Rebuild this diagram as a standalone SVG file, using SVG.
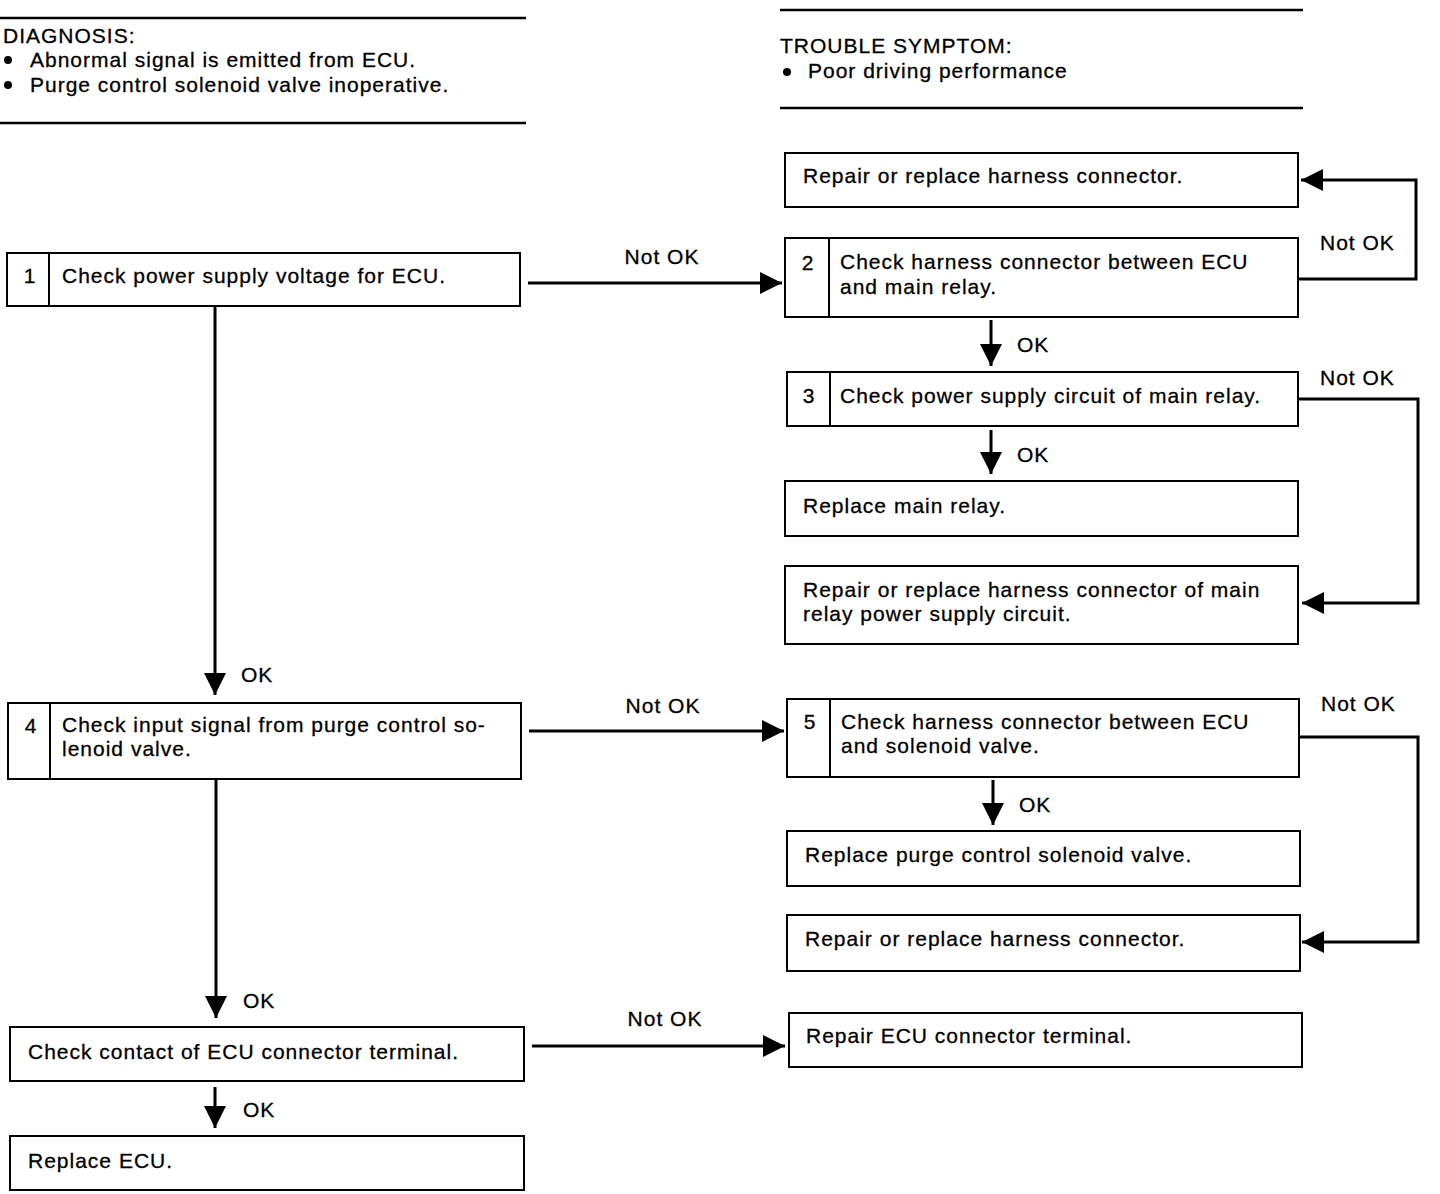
<svg xmlns="http://www.w3.org/2000/svg" width="1440" height="1194" viewBox="0 0 1440 1194">
<style>
text{font-family:"Liberation Sans",Arial,sans-serif;font-size:21px;letter-spacing:1px;fill:#000;stroke:#000;stroke-width:0.3}
.box{fill:#fff;stroke:#000;stroke-width:2}
.div{stroke:#000;stroke-width:2}
.rule{stroke:#000;stroke-width:2.5}
.c{fill:none;stroke:#000;stroke-width:3}
.num{text-anchor:middle}
.lbl{text-anchor:middle}
</style>
<defs>
<marker id="ah" markerUnits="userSpaceOnUse" markerWidth="24" markerHeight="24" refX="22" refY="11" orient="auto">
<path d="M0,0 L22,11 L0,22 Z" fill="#000"/>
</marker>
</defs>
<rect width="1440" height="1194" fill="#fff"/>
<g id="header-diagnosis">
<line class="rule" x1="0" y1="18" x2="526" y2="18"/>
<text x="3" y="43">DIAGNOSIS:</text>
<circle cx="8" cy="60" r="4"/>
<text x="30" y="67">Abnormal signal is emitted from ECU.</text>
<circle cx="8" cy="85" r="4"/>
<text x="30" y="92">Purge control solenoid valve inoperative.</text>
<line class="rule" x1="0" y1="123" x2="526" y2="123"/>
</g>
<g id="header-symptom">
<line class="rule" x1="780" y1="10" x2="1303" y2="10"/>
<text x="780" y="53">TROUBLE SYMPTOM:</text>
<circle cx="787" cy="72" r="4"/>
<text x="808" y="78">Poor driving performance</text>
<line class="rule" x1="780" y1="108" x2="1303" y2="108"/>
</g>
<g id="n-repair-harness-1">
<rect class="box" x="785" y="153" width="513" height="54"/>
<text x="803" y="183">Repair or replace harness connector.</text>
</g>
<g id="n1">
<rect class="box" x="7" y="253" width="513" height="53"/>
<line class="div" x1="49" y1="253" x2="49" y2="306"/>
<text class="num" x="30" y="283">1</text>
<text x="62" y="283">Check power supply voltage for ECU.</text>
</g>
<g id="n2">
<rect class="box" x="785" y="238" width="513" height="79"/>
<line class="div" x1="829" y1="238" x2="829" y2="317"/>
<text class="num" x="808" y="270">2</text>
<text x="840" y="269">Check harness connector between ECU</text>
<text x="840" y="294">and main relay.</text>
</g>
<g id="n3">
<rect class="box" x="787" y="372" width="511" height="54"/>
<line class="div" x1="830" y1="372" x2="830" y2="426"/>
<text class="num" x="809" y="403">3</text>
<text x="840" y="403">Check power supply circuit of main relay.</text>
</g>
<g id="n-replace-main-relay">
<rect class="box" x="785" y="481" width="513" height="55"/>
<text x="803" y="513">Replace main relay.</text>
</g>
<g id="n-repair-main-relay-circuit">
<rect class="box" x="785" y="566" width="513" height="78"/>
<text x="803" y="597">Repair or replace harness connector of main</text>
<text x="803" y="621">relay power supply circuit.</text>
</g>
<g id="n4">
<rect class="box" x="8" y="703" width="513" height="76"/>
<line class="div" x1="50" y1="703" x2="50" y2="779"/>
<text class="num" x="31" y="733">4</text>
<text x="62" y="732">Check input signal from purge control so-</text>
<text x="62" y="756">lenoid valve.</text>
</g>
<g id="n5">
<rect class="box" x="787" y="699" width="512" height="78"/>
<line class="div" x1="830" y1="699" x2="830" y2="777"/>
<text class="num" x="810" y="729">5</text>
<text x="841" y="729">Check harness connector between ECU</text>
<text x="841" y="753">and solenoid valve.</text>
</g>
<g id="n-replace-purge">
<rect class="box" x="787" y="831" width="513" height="55"/>
<text x="805" y="862">Replace purge control solenoid valve.</text>
</g>
<g id="n-repair-harness-2">
<rect class="box" x="787" y="915" width="513" height="56"/>
<text x="805" y="946">Repair or replace harness connector.</text>
</g>
<g id="n-check-contact">
<rect class="box" x="10" y="1027" width="514" height="54"/>
<text x="28" y="1059">Check contact of ECU connector terminal.</text>
</g>
<g id="n-repair-ecu-terminal">
<rect class="box" x="789" y="1013" width="513" height="54"/>
<text x="806" y="1043">Repair ECU connector terminal.</text>
</g>
<g id="n-replace-ecu">
<rect class="box" x="10" y="1136" width="514" height="54"/>
<text x="28" y="1168">Replace ECU.</text>
</g>
<g id="connectors">
<line class="c" x1="528" y1="283" x2="782" y2="283" marker-end="url(#ah)"/>
<text class="lbl" x="662" y="264">Not OK</text>
<polyline class="c" points="1298,279 1416,279 1416,180 1301,180" marker-end="url(#ah)"/>
<text x="1320" y="250">Not OK</text>
<line class="c" x1="991" y1="320" x2="991" y2="366" marker-end="url(#ah)"/>
<text x="1017" y="352">OK</text>
<polyline class="c" points="1298,399 1418,399 1418,603 1302,603" marker-end="url(#ah)"/>
<text x="1320" y="385">Not OK</text>
<line class="c" x1="991" y1="430" x2="991" y2="474" marker-end="url(#ah)"/>
<text x="1017" y="462">OK</text>
<line class="c" x1="215" y1="306" x2="215" y2="695" marker-end="url(#ah)"/>
<text x="241" y="682">OK</text>
<line class="c" x1="529" y1="731" x2="784" y2="731" marker-end="url(#ah)"/>
<text class="lbl" x="663" y="713">Not OK</text>
<polyline class="c" points="1299,737 1418,737 1418,942 1302,942" marker-end="url(#ah)"/>
<text x="1321" y="711">Not OK</text>
<line class="c" x1="993" y1="780" x2="993" y2="825" marker-end="url(#ah)"/>
<text x="1019" y="812">OK</text>
<line class="c" x1="216" y1="779" x2="216" y2="1018" marker-end="url(#ah)"/>
<text x="243" y="1008">OK</text>
<line class="c" x1="532" y1="1046" x2="785" y2="1046" marker-end="url(#ah)"/>
<text class="lbl" x="665" y="1026">Not OK</text>
<line class="c" x1="215" y1="1087" x2="215" y2="1128" marker-end="url(#ah)"/>
<text x="243" y="1117">OK</text>
</g>
</svg>
